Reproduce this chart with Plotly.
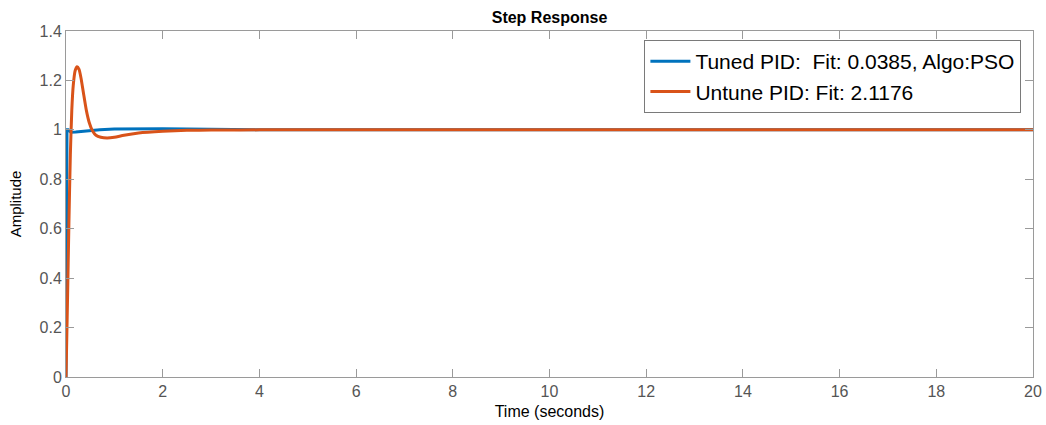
import plotly.graph_objects as go

# Tuned PID (blue)
t_tuned = [0, 0.01, 0.02, 0.05, 0.1, 0.2, 0.4, 0.7, 1.0, 1.5, 2.0, 2.5, 3.0, 3.5, 4.0, 20]
y_tuned = [0, 0.6, 1.0, 1.0, 0.99, 0.991, 0.995, 1.0, 1.003, 1.005, 1.004, 1.003, 1.002, 1.001, 1.0, 1.0]

# Untuned PID (orange)
t_untuned = [0, 0.03, 0.06, 0.09, 0.12, 0.15, 0.19, 0.23, 0.27, 0.31, 0.36, 0.42, 0.48, 0.55,
             0.62, 0.72, 0.85, 1.0, 1.2, 1.5, 2.0, 2.5, 3.0, 4.0, 20]
y_untuned = [0, 0.3, 0.62, 0.9, 1.08, 1.18, 1.24, 1.255, 1.245, 1.21, 1.15, 1.08, 1.03, 0.995,
             0.978, 0.97, 0.967, 0.97, 0.978, 0.987, 0.994, 0.998, 0.999, 1.0, 1.0]

x_ticks = [0, 2, 4, 6, 8, 10, 12, 14, 16, 18, 20]
y_ticks = [0, 0.2, 0.4, 0.6, 0.8, 1, 1.2, 1.4]
y_tick_text = ["0", "0.2", "0.4", "0.6", "0.8", "1", "1.2", "1.4"]

FONT = "Arial, Liberation Sans, Helvetica"

fig = go.Figure()
fig.add_trace(go.Scatter(x=t_tuned, y=y_tuned, mode="lines",
                         name="Tuned PID:\u00a0 Fit: 0.0385, Algo:PSO",
                         line=dict(color="#0072BD", width=3)))
fig.add_trace(go.Scatter(x=t_untuned, y=y_untuned, mode="lines",
                         name="Untune PID: Fit: 2.1176",
                         line=dict(color="#D95319", width=3, shape="spline", smoothing=0.6)))

axis_common = dict(showgrid=False, zeroline=False, showline=True, linecolor="#9a9a9a",
                   linewidth=1, mirror="ticks", ticks="inside", ticklen=8, automargin=False,
                   tickcolor="#9a9a9a", tickfont=dict(family=FONT, size=16, color="#555555"))

fig.update_layout(
    width=1046, height=425,
    margin=dict(l=66, r=13, t=31, b=48),
    paper_bgcolor="white", plot_bgcolor="white",
    title=dict(text="<b>Step Response</b>", x=0.5, xref="paper", xanchor="center",
               y=1 - 17 / 425, yanchor="middle",
               font=dict(family=FONT, size=16, color="black")),
    xaxis=dict(range=[0, 20], tickvals=x_ticks, ticktext=[str(v) for v in x_ticks],
               title=dict(text="Time (seconds)", standoff=6,
                          font=dict(family=FONT, size=16, color="black")),
               **axis_common),
    yaxis=dict(range=[0, 1.4], tickvals=y_ticks, ticktext=y_tick_text,
               title=dict(text="Amplitude", standoff=14,
                          font=dict(family=FONT, size=15, color="black")),
               **axis_common),
    legend=dict(x=0.988, y=0.974, xanchor="right", yanchor="top",
                bgcolor="white", bordercolor="#7a7a7a", borderwidth=1,
                font=dict(family=FONT, size=21, color="black"),
                tracegroupgap=0, itemwidth=40),
    showlegend=True,
)

fig.write_html("out.html")
